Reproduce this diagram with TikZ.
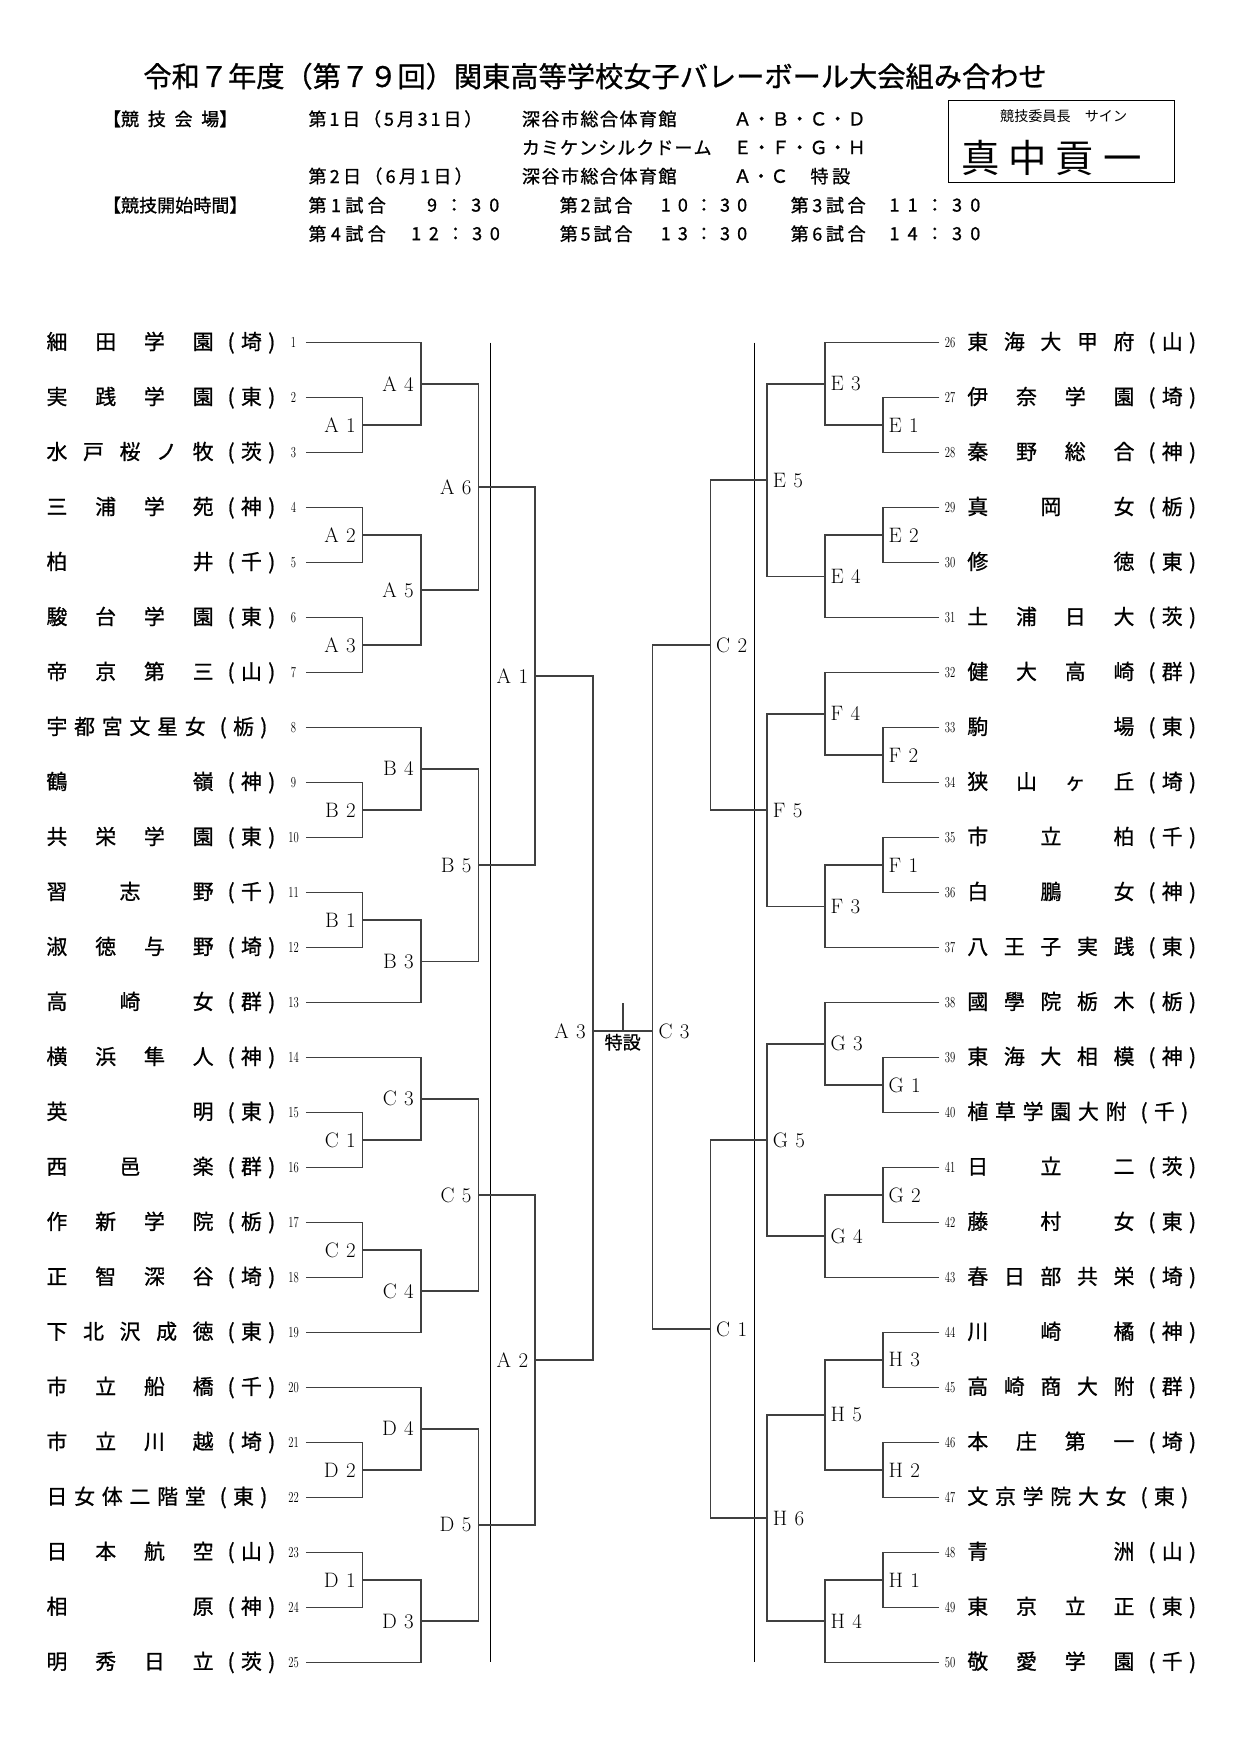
\documentclass[tikz,border=0pt]{standalone}
\usepackage{fontspec}
\usepackage{graphicx}
\newfontfamily\jp{Noto Sans CJK JP}
\newfontfamily\jpb{Noto Sans CJK JP}[FakeBold=0.9]
\usetikzlibrary{calc}
\definecolor{brc}{gray}{0.25}
\def\spreadloop#1{\ifx\relax#1\else\spsep#1\let\spsep\hfill\expandafter\spreadloop\fi}
\newcommand\spread[2]{\edef\sptmp{#2}\makebox[#1][s]{\let\spsep\relax\expandafter\spreadloop\sptmp\relax}}
\newcommand\pref[1]{\hspace{6.5pt}\makebox[18pt]{(}\makebox[18pt]{#1}\makebox[18pt]{)}}
\def\lbfmt#1#2{#1\hspace{6.5pt}#2}
\newcommand\match[6]{%
  \path ($(#2)!.5!(#3)$) coordinate (#1m);
  \coordinate (#1) at (#1m -| #4);
  \draw[br] (#2) -| (#1) |- (#3);
  \node[#5] (#1t) at (#1) {\lbfmt#6};
}
\tikzset{
  br/.style={draw=brc, line width=1.4pt},
  longline/.style={draw=black, line width=1pt},
  nm/.style={inner sep=0pt, anchor=west, font=\jpb\fontsize{18.5}{20}\selectfont},
  num/.style={inner sep=0pt, font=\fontsize{13.5}{14}\selectfont},
  lblL/.style={inner sep=0pt, anchor=east, xshift=-6pt, font=\fontsize{18.5}{19}\selectfont},
  lblR/.style={inner sep=0pt, anchor=west, xshift=5pt, font=\fontsize{18.5}{19}\selectfont},
  hd/.style={inner sep=0pt, anchor=west, font=\jpb\fontsize{16}{16}\selectfont},
}
\begin{document}
\begin{tikzpicture}[x=1pt,y=-1pt]
\fill[white] (0,0) rectangle (1100,1554.3);
\path[use as bounding box] (0,0) rectangle (1100,1554.3);
% title
\node[inner sep=0pt, font=\jpb\fontsize{25}{26}\selectfont] (title) at (527,67.5) {令和７年度（第７９回）関東高等学校女子バレーボール大会組み合わせ};
% header
\node[hd] (h1a) at (91,105.3) {\makebox[119pt][s]{【競\hfill 技\hfill 会\hfill 場】}};
\node[hd] (h1b) at (273,105.3) {\spread{154pt}{第1日（5月31日）}};
\node[hd] (h1c) at (462,105.3) {\spread{137pt}{深谷市総合体育館}};
\node[hd] (h1d) at (649.5,105.3) {\spread{117pt}{Ａ・Ｂ・Ｃ・Ｄ}};
\node[hd] (h2c) at (462,130.6) {\spread{168pt}{カミケンシルクドーム}};
\node[hd] (h2d) at (649.5,130.6) {\spread{117pt}{Ｅ・Ｆ・Ｇ・Ｈ}};
\node[hd] (h3b) at (273,156) {\spread{145.5pt}{第2日（6月1日）}};
\node[hd] (h3c) at (462,156) {\spread{137pt}{深谷市総合体育館}};
\node[hd] (h3d) at (649.5,156) {\spread{48.6pt}{Ａ・Ｃ}};
\node[hd] (h3e) at (717.6,156) {\spread{35.2pt}{特設}};
\node[hd] (h4a) at (91,181.7) {\spread{122.5pt}{【競技開始時間】}};
\node[hd] (h4b) at (273,181.7) {\spread{68.5pt}{第1試合}};
\node[hd] (h4c) at (378,181.7) {\spread{64pt}{9：30}};
\node[hd] (h4d) at (495.5,181.7) {\spread{64.5pt}{第2試合}};
\node[hd] (h4e) at (585,181.7) {\spread{76.5pt}{10：30}};
\node[hd] (h4f) at (700,181.7) {\spread{66.5pt}{第3試合}};
\node[hd] (h4g) at (787.5,181.7) {\spread{80.5pt}{11：30}};
\node[hd] (h5b) at (273,207) {\spread{68.5pt}{第4試合}};
\node[hd] (h5c) at (364,207) {\spread{78.5pt}{12：30}};
\node[hd] (h5d) at (495.5,207) {\spread{64.5pt}{第5試合}};
\node[hd] (h5e) at (585,207) {\spread{76.5pt}{13：30}};
\node[hd] (h5f) at (700,207) {\spread{66.5pt}{第6試合}};
\node[hd] (h5g) at (787.5,207) {\spread{80.5pt}{14：30}};
% signature box
\node[draw=black, line width=0.8pt, minimum width=199.6pt, minimum height=72.5pt, inner sep=0pt, anchor=north west] (sigbox) at (840,88.4) {};
\node[inner sep=0pt, font=\jp\fontsize{12.5}{13}\selectfont] (sigtitle) at (942,103.3) {競技委員長　サイン};
\node[inner sep=0pt, anchor=west, font=\jp\fontsize{34}{34}\selectfont] (sign) at (851,139.5) {\spread{160pt}{真中貢一}};
% vertical reference coordinates
\coordinate (xl1) at (321.2,0); \coordinate (xl2) at (372.6,0); \coordinate (xl3) at (423.7,0); \coordinate (xl4) at (473.9,0);
\coordinate (xr1) at (781.8,0); \coordinate (xr2) at (730.4,0); \coordinate (xr3) at (679.3,0); \coordinate (xr4) at (629.1,0);
% long lines
\coordinate (llt) at (434.6,303.5); \coordinate (llb) at (434.6,1472.3);
\coordinate (lrt) at (668.4,303.5); \coordinate (lrb) at (668.4,1472.3);
\draw[longline] (llt) -- (llb);
\draw[longline] (lrt) -- (lrb);
% left entries
\foreach \i/\nm/\pf/\w in {1/細田学園/埼/148, 2/実践学園/東/148, 3/水戸桜ノ牧/茨/148, 4/三浦学苑/神/148, 5/柏井/千/148, 6/駿台学園/東/148, 7/帝京第三/山/148, 8/宇都宮文星女/栃/141, 9/鶴嶺/神/148, 10/共栄学園/東/148, 11/習志野/千/148, 12/淑徳与野/埼/148, 13/高崎女/群/148, 14/横浜隼人/神/148, 15/英明/東/148, 16/西邑楽/群/148, 17/作新学院/栃/148, 18/正智深谷/埼/148, 19/下北沢成徳/東/148, 20/市立船橋/千/148, 21/市立川越/埼/148, 22/日女体二階堂/東/141, 23/日本航空/山/148, 24/相原/神/148, 25/明秀日立/茨/148}{
  \pgfmathsetmacro\yy{303.5+(\i-1)*48.7}
  \node[nm] (tL\i) at (41,\yy) {\spread{\w pt}{\nm}\pref{\pf}};
  \node[num] (nL\i) at (260,\yy) {\scalebox{0.7}[1]{\i}};
  \coordinate (pL\i) at (271,\yy);
}
% right entries
\foreach \i/\nm/\pf/\w in {26/東海大甲府/山/148, 27/伊奈学園/埼/148, 28/秦野総合/神/148, 29/真岡女/栃/148, 30/修徳/東/148, 31/土浦日大/茨/148, 32/健大高崎/群/148, 33/駒場/東/148, 34/狭山ヶ丘/埼/148, 35/市立柏/千/148, 36/白鵬女/神/148, 37/八王子実践/東/148, 38/國學院栃木/栃/148, 39/東海大相模/神/148, 40/植草学園大附/千/141, 41/日立二/茨/148, 42/藤村女/東/148, 43/春日部共栄/埼/148, 44/川崎橘/神/148, 45/高崎商大附/群/148, 46/本庄第一/埼/148, 47/文京学院大女/東/141, 48/青洲/山/148, 49/東京立正/東/148, 50/敬愛学園/千/148}{
  \pgfmathsetmacro\yy{303.5+(\i-26)*48.7}
  \node[nm] (tR\i) at (856.5,\yy) {\spread{\w pt}{\nm}\pref{\pf}};
  \node[num] (nR\i) at (841.5,\yy) {\scalebox{0.7}[1]{\i}};
  \coordinate (pR\i) at (832,\yy);
}
% left bracket
\match{LA1}{pL2}{pL3}{xl1}{lblL}{A1}
\match{LA4}{pL1}{LA1}{xl2}{lblL}{A4}
\match{LA2}{pL4}{pL5}{xl1}{lblL}{A2}
\match{LA3}{pL6}{pL7}{xl1}{lblL}{A3}
\match{LA5}{LA2}{LA3}{xl2}{lblL}{A5}
\match{LA6}{LA4}{LA5}{xl3}{lblL}{A6}
\match{LB2}{pL9}{pL10}{xl1}{lblL}{B2}
\match{LB4}{pL8}{LB2}{xl2}{lblL}{B4}
\match{LB1}{pL11}{pL12}{xl1}{lblL}{B1}
\match{LB3}{LB1}{pL13}{xl2}{lblL}{B3}
\match{LB5}{LB4}{LB3}{xl3}{lblL}{B5}
\match{LsA1}{LA6}{LB5}{xl4}{lblL}{A1}
\match{LC1}{pL15}{pL16}{xl1}{lblL}{C1}
\match{LC3}{pL14}{LC1}{xl2}{lblL}{C3}
\match{LC2}{pL17}{pL18}{xl1}{lblL}{C2}
\match{LC4}{LC2}{pL19}{xl2}{lblL}{C4}
\match{LC5}{LC3}{LC4}{xl3}{lblL}{C5}
\match{LD2}{pL21}{pL22}{xl1}{lblL}{D2}
\match{LD4}{pL20}{LD2}{xl2}{lblL}{D4}
\match{LD1}{pL23}{pL24}{xl1}{lblL}{D1}
\match{LD3}{LD1}{pL25}{xl2}{lblL}{D3}
\match{LD5}{LD4}{LD3}{xl3}{lblL}{D5}
\match{LsA2}{LC5}{LD5}{xl4}{lblL}{A2}
% right bracket
\match{RE1}{pR27}{pR28}{xr1}{lblR}{E1}
\match{RE3}{pR26}{RE1}{xr2}{lblR}{E3}
\match{RE2}{pR29}{pR30}{xr1}{lblR}{E2}
\match{RE4}{RE2}{pR31}{xr2}{lblR}{E4}
\match{RE5}{RE3}{RE4}{xr3}{lblR}{E5}
\match{RF2}{pR33}{pR34}{xr1}{lblR}{F2}
\match{RF4}{pR32}{RF2}{xr2}{lblR}{F4}
\match{RF1}{pR35}{pR36}{xr1}{lblR}{F1}
\match{RF3}{RF1}{pR37}{xr2}{lblR}{F3}
\match{RF5}{RF4}{RF3}{xr3}{lblR}{F5}
\match{RsC2}{RE5}{RF5}{xr4}{lblR}{C2}
\match{RG1}{pR39}{pR40}{xr1}{lblR}{G1}
\match{RG3}{pR38}{RG1}{xr2}{lblR}{G3}
\match{RG2}{pR41}{pR42}{xr1}{lblR}{G2}
\match{RG4}{RG2}{pR43}{xr2}{lblR}{G4}
\match{RG5}{RG3}{RG4}{xr3}{lblR}{G5}
\match{RH3}{pR44}{pR45}{xr1}{lblR}{H3}
\match{RH2}{pR46}{pR47}{xr1}{lblR}{H2}
\match{RH5}{RH3}{RH2}{xr2}{lblR}{H5}
\match{RH1}{pR48}{pR49}{xr1}{lblR}{H1}
\match{RH4}{RH1}{pR50}{xr2}{lblR}{H4}
\match{RH6}{RH5}{RH4}{xr3}{lblR}{H6}
\match{RsC1}{RG5}{RH6}{xr4}{lblR}{C1}
% final
\coordinate (LfA3) at (525,913);
\coordinate (RfC3) at (578,913);
\draw[br] (LsA1) -| (LfA3) |- (LsA2);
\draw[br] (RsC2) -| (RfC3) |- (RsC1);
\draw[br] (LfA3) -- (RfC3);
\node[lblL] (LfA3t) at (LfA3) {\lbfmt A3};
\node[lblR] (RfC3t) at (RfC3) {\lbfmt C3};
\coordinate (tick) at (551.5,888.6);
\draw[br] (tick) -- (tick |- LfA3);
\node[inner sep=0pt, font=\jpb\fontsize{16}{16}\selectfont] (tokusetsu) at (551.5,923) {特設};
\end{tikzpicture}
\end{document}
